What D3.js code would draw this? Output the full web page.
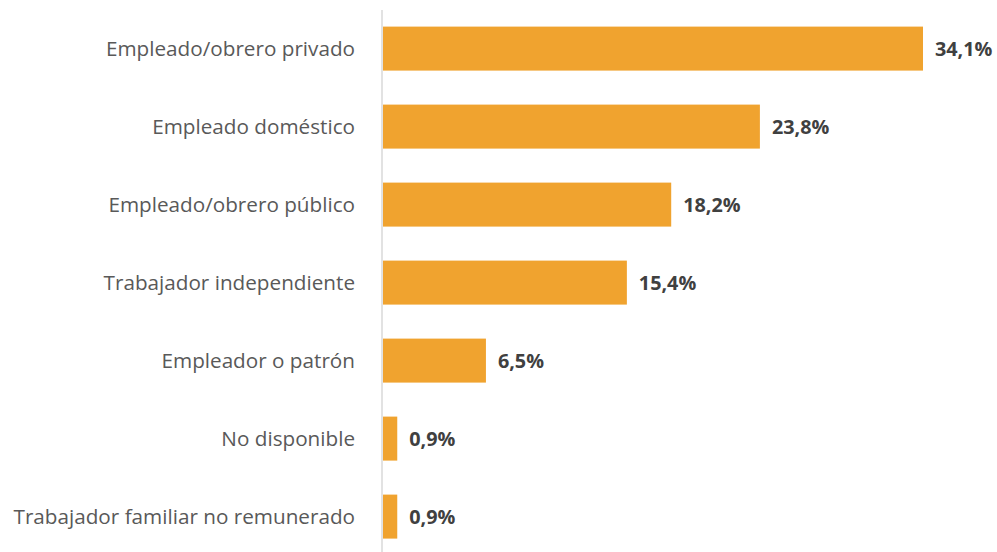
<!DOCTYPE html>
<html>
<head>
<meta charset="utf-8">
<script src="https://cdn.jsdelivr.net/npm/d3@7"></script>
<style>
  body { margin: 0; background: #fff; }
  .cat { font-family: "Open Sans", sans-serif; font-size: 20.7px; fill: #595959; }
  .val { font-family: "Open Sans", sans-serif; font-size: 19.8px; font-weight: bold; fill: #404040; }
</style>
</head>
<body>
<div id="graph"></div>
<script>
const categories = [
  'Empleado/obrero privado',
  'Empleado doméstico',
  'Empleado/obrero público',
  'Trabajador independiente',
  'Empleador o patrón',
  'No disponible',
  'Trabajador familiar no remunerado'
];
const values = [34.1, 23.8, 18.2, 15.4, 6.5, 0.9, 0.9];
const valueLabels = ['34,1%', '23,8%', '18,2%', '15,4%', '6,5%', '0,9%', '0,9%'];

var W = 997, H = 552,
    x0 = 383,
    x = d3.scaleLinear().domain([0, 34.1]).range([x0, 923]),
    y = d3.scaleBand().domain(categories).range([9.6, 555.6]).paddingInner(0.436).paddingOuter(0.218);

var svg = d3.select('#graph').append('svg')
    .attr('width', W)
    .attr('height', H);

// bars
svg.selectAll('rect.bar')
  .data(values)
  .enter().append('rect')
  .attr('class', 'bar')
  .attr('x', x(0))
  .attr('y', (d, i) => y(categories[i]))
  .attr('width', (d) => x(d) - x(0))
  .attr('height', y.bandwidth())
  .attr('fill', '#F0A32F');

// axis line
svg.append('line')
  .attr('x1', 382).attr('x2', 382)
  .attr('y1', 10).attr('y2', H)
  .attr('stroke', '#d9d9d9')
  .attr('stroke-width', 1.5);

// category labels
svg.selectAll('text.cat')
  .data(categories)
  .enter().append('text')
  .attr('class', 'cat')
  .attr('x', 355)
  .attr('y', (d) => y(d) + y.bandwidth() / 2)
  .attr('dy', '0.35em')
  .attr('text-anchor', 'end')
  .text((d) => d);

// value labels
svg.selectAll('text.val')
  .data(values)
  .enter().append('text')
  .attr('class', 'val')
  .attr('x', (d) => x(d) + 12)
  .attr('y', (d, i) => y(categories[i]) + y.bandwidth() / 2)
  .attr('dy', '0.35em')
  .text((d, i) => valueLabels[i]);
</script>
</body>
</html>
